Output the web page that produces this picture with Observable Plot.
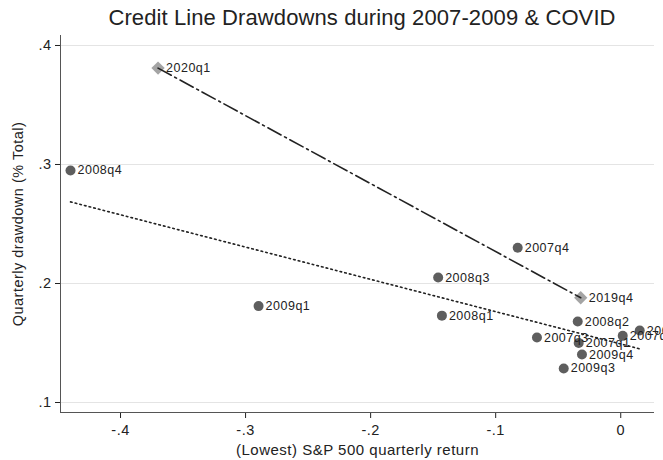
<!DOCTYPE html>
<html>
<head>
<meta charset="utf-8">
<script src="https://cdn.jsdelivr.net/npm/d3@7"></script>
<script src="https://cdn.jsdelivr.net/npm/@observablehq/plot@0.6"></script>
<style>
  html, body { margin: 0; padding: 0; background: #fff; overflow: hidden; }
  #title {
    box-sizing: border-box;
    width: 663px;
    height: 32px;
    padding-left: 61px;
    text-align: center;
    font: 22px "Liberation Sans", Arial, sans-serif;
    letter-spacing: 0.1px;
    line-height: 36px;
    color: #222;
    white-space: nowrap;
  }
</style>
</head>
<body>
<div id="title">Credit Line Drawdowns during 2007-2009 &amp; COVID</div>
<div id="chart"></div>
<script>
// Financial crisis quarters: lowest S&P 500 quarterly return vs. credit line drawdowns
const quarters = ["2008q4", "2007q4", "2008q3", "2009q1", "2008q1", "2008q2",
                  "2007q3", "2007q1", "2009q4", "2009q3", "2007q2", "2009q2"];
const returns = [-0.44, -0.0824, -0.146, -0.2896, -0.143, -0.0344,
                 -0.067, -0.0336, -0.031, -0.0456, 0.0016, 0.0152];
const drawdowns = [0.295, 0.230, 0.205, 0.181, 0.173, 0.168,
                   0.1546, 0.150, 0.1403, 0.1286, 0.156, 0.1605];

// COVID quarters
const covidQuarters = ["2020q1", "2019q4"];
const covidReturns = [-0.37, -0.032];
const covidDrawdowns = [0.381, 0.188];

// Axis ticks
const xTicks = [-0.4, -0.3, -0.2, -0.1, 0];
const yTicks = [0.1, 0.2, 0.3, 0.4];

const crisis = quarters.map((q, i) => ({q, x: returns[i], y: drawdowns[i]}));
const covid = covidQuarters.map((q, i) => ({q, x: covidReturns[i], y: covidDrawdowns[i]}));

const fmt = d => d === 0 ? "0" : d.toFixed(1).replace("0.", ".");
const ink = "#222";

const chart = Plot.plot({
  width: 663,
  height: 428,
  marginTop: 3,
  marginLeft: 60,
  marginRight: 9,
  marginBottom: 48,
  style: {fontFamily: "'Liberation Sans', Arial, sans-serif", fontSize: "14.5px", letterSpacing: "0.5px", color: ink, background: "#fff"},
  x: {domain: [-0.448, 0.027], ticks: xTicks, tickFormat: fmt, tickSize: 6, tickPadding: 6, label: null},
  y: {domain: [0.0916, 0.4084], ticks: yTicks, tickFormat: fmt, tickSize: 5, tickPadding: 4, label: null},
  marks: [
    Plot.ruleY(yTicks, {stroke: "#e4e4e4", strokeWidth: 1}),
    Plot.ruleX([-0.448], {stroke: "#555", strokeWidth: 1}),
    Plot.ruleY([0.0916], {stroke: "#555", strokeWidth: 1}),
    Plot.dot(crisis, {x: "x", y: "y", r: 5, fill: "#5e5e5e"}),
    Plot.dot(covid, {x: "x", y: "y", r: 6, symbol: "diamond2", fill: "#a4a4a4"}),
    Plot.text(crisis, {x: "x", y: "y", text: "q", dx: 7, textAnchor: "start", fontSize: 12.5, fill: ink}),
    Plot.text(covid, {x: "x", y: "y", text: "q", dx: 8, textAnchor: "start", fontSize: 12.5, fill: ink}),
    Plot.linearRegressionY(crisis, {x: "x", y: "y", ci: 0, stroke: ink, strokeWidth: 1.6, strokeDasharray: "1.6,3.2"}),
    Plot.linearRegressionY(covid, {x: "x", y: "y", ci: 0, stroke: ink, strokeWidth: 1.6, strokeDasharray: "15,4,2,4"}),
    Plot.text(["(Lowest) S&P 500 quarterly return"], {frameAnchor: "bottom", textAnchor: "middle", lineAnchor: "middle", dy: 38, fontSize: 15, fill: ink}),
    Plot.text(["Quarterly drawdown (% Total)"], {frameAnchor: "left", textAnchor: "middle", lineAnchor: "middle", rotate: -90, dx: -42, fontSize: 14.5, fill: ink})
  ]
});
document.getElementById("chart").appendChild(chart);
</script>
</body>
</html>
